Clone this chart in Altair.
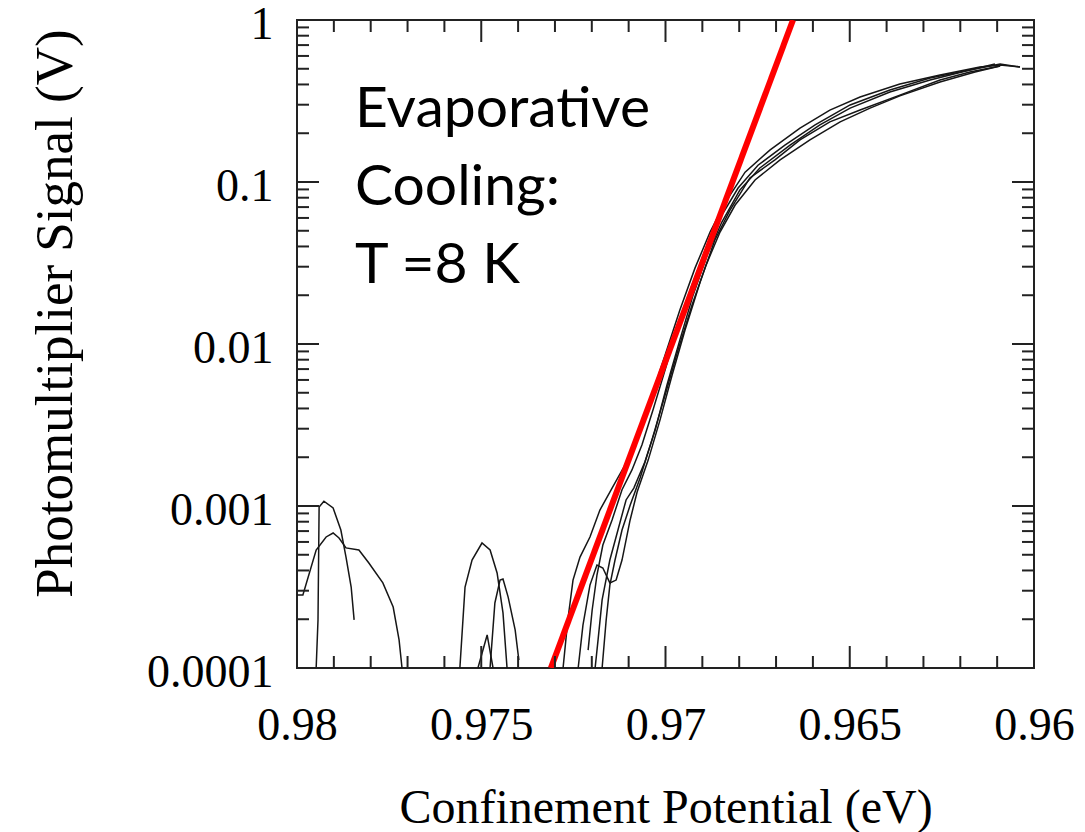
import altair as alt
import pandas as pd

# ---- measured curves: confinement potential (eV) vs photomultiplier signal (V) ----
c1_x = [0.97278, 0.97265, 0.97251, 0.97232, 0.97205, 0.97178, 0.97145, 0.97110, 0.97069, 0.97037,
        0.97001, 0.96961, 0.96920, 0.96879, 0.96839, 0.96784, 0.96716, 0.96635, 0.96554, 0.96472,
        0.96364, 0.96255, 0.96147, 0.96092, 0.96038]
c1_y = [1.00e-4, 1.98e-4, 3.49e-4, 4.84e-4, 6.44e-4, 9.44e-4, 1.29e-3, 1.79e-3, 3.03e-3, 4.84e-3,
        8.56e-3, 1.62e-2, 2.94e-2, 4.91e-2, 7.41e-2, 0.115, 0.158, 0.215, 0.278, 0.335,
        0.403, 0.457, 0.513, 0.528, 0.513]

c2_x = [0.97237, 0.97224, 0.97205, 0.97186, 0.97170, 0.97151, 0.97134, 0.97118, 0.97096, 0.97077,
        0.97047, 0.97015, 0.96982, 0.96947, 0.96906, 0.96866, 0.96825, 0.96771, 0.96703, 0.96635,
        0.96554, 0.96472, 0.96364, 0.96255, 0.96174, 0.96092]
c2_y = [1.00e-4, 1.84e-4, 3.25e-4, 4.32e-4, 4.14e-4, 3.35e-4, 3.49e-4, 4.64e-4, 8.20e-4, 1.22e-3,
        1.92e-3, 3.39e-3, 6.44e-3, 1.22e-2, 2.41e-2, 4.39e-2, 6.71e-2, 0.106, 0.137, 0.182,
        0.235, 0.278, 0.344, 0.426, 0.477, 0.520]

c3_x = [0.97191, 0.97183, 0.97172, 0.97151, 0.97129, 0.97107, 0.97086, 0.97056, 0.97028, 0.96996,
        0.96961, 0.96925, 0.96887, 0.96847, 0.96798, 0.96744, 0.96662, 0.96581, 0.96499, 0.96391,
        0.96282, 0.96174, 0.96092, 0.96038]
c3_y = [1.00e-4, 1.49e-4, 2.63e-4, 4.64e-4, 7.11e-4, 1.09e-3, 1.29e-3, 1.87e-3, 2.94e-3, 5.58e-3,
        1.06e-2, 2.01e-2, 3.54e-2, 5.66e-2, 8.93e-2, 0.122, 0.169, 0.225, 0.286, 0.359,
        0.426, 0.491, 0.535, 0.513]

c4_x = [0.97210, 0.97199, 0.97186, 0.97170, 0.97145, 0.97118, 0.97091, 0.97064, 0.97034, 0.97001,
        0.96966, 0.96928, 0.96890, 0.96852, 0.96803, 0.96749, 0.96676, 0.96594, 0.96499, 0.96391,
        0.96282, 0.96174, 0.96106]
c4_y = [1.29e-4, 2.28e-4, 3.75e-4, 5.74e-4, 8.20e-4, 1.26e-3, 1.67e-3, 2.38e-3, 3.91e-3, 6.92e-3,
        1.31e-2, 2.31e-2, 3.91e-2, 5.99e-2, 9.18e-2, 0.127, 0.169, 0.225, 0.299, 0.370,
        0.438, 0.491, 0.535]

c5_x = [0.97172, 0.97161, 0.97151, 0.97137, 0.97118, 0.97096, 0.97069, 0.97037, 0.97001, 0.96966,
        0.96928, 0.96890, 0.96852, 0.96811, 0.96757, 0.96689, 0.96608, 0.96526, 0.96445, 0.96364,
        0.96255, 0.96160, 0.96092]
c5_y = [1.00e-4, 1.98e-4, 3.25e-4, 4.64e-4, 7.11e-4, 1.01e-3, 1.49e-3, 2.55e-3, 4.84e-3, 9.18e-3,
        1.74e-2, 3.07e-2, 4.91e-2, 7.21e-2, 0.103, 0.137, 0.182, 0.235, 0.286, 0.340,
        0.414, 0.477, 0.520]

l1_x = [0.98000, 0.97984, 0.97948, 0.97921, 0.97902, 0.97886, 0.97867, 0.97832, 0.97805, 0.97767,
        0.97739, 0.97723, 0.97715]
l1_y = [2.82e-4, 2.82e-4, 5.35e-4, 6.44e-4, 6.81e-4, 6.35e-4, 5.51e-4, 5.35e-4, 4.45e-4, 3.35e-4,
        2.38e-4, 1.49e-4, 1.00e-4]

l2_x = [0.97948, 0.97943, 0.97940, 0.97927, 0.97902, 0.97881, 0.97867, 0.97853, 0.97845]
l2_y = [1.00e-4, 1.98e-4, 9.86e-4, 1.07e-3, 9.72e-4, 7.11e-4, 4.84e-4, 3.16e-4, 1.98e-4]

m1_x = [0.97558, 0.97544, 0.97525, 0.97498, 0.97476, 0.97457, 0.97441, 0.97430]
m1_y = [1.00e-4, 3.16e-4, 4.64e-4, 5.91e-4, 5.35e-4, 3.86e-4, 2.19e-4, 1.00e-4]

m2_x = [0.97476, 0.97463, 0.97449, 0.97441, 0.97427, 0.97408, 0.97398]
m2_y = [1.01e-4, 2.52e-4, 3.49e-4, 3.54e-4, 2.74e-4, 1.72e-4, 1.12e-4]

m3_x = [0.97509, 0.97484, 0.97468]
m3_y = [1.00e-4, 1.60e-4, 1.00e-4]

# ---- exponential fit (red) ----
fit_x = [0.97311, 0.96654]
fit_y = [1.0e-4, 1.0]

# ---- axis ticks / labels ----
x_major = [0.98, 0.975, 0.97, 0.965, 0.96]
x_minor = [round(0.98 - i * 0.001, 3) for i in range(21) if i % 5]
y_major = [1e-4, 1e-3, 1e-2, 1e-1, 1.0]
y_minor = [m * 10.0 ** e for e in range(-4, 0) for m in range(2, 10)]

note_text = ["Evaporative\nCooling:\nT =8 K"]

curves = {
    "c1": (c1_x, c1_y), "c2": (c2_x, c2_y), "c3": (c3_x, c3_y),
    "c4": (c4_x, c4_y), "c5": (c5_x, c5_y), "l1": (l1_x, l1_y),
    "l2": (l2_x, l2_y), "m1": (m1_x, m1_y), "m2": (m2_x, m2_y), "m3": (m3_x, m3_y),
}
rows = []
for name, (xs, ys) in curves.items():
    for i, (xv, yv) in enumerate(zip(xs, ys)):
        rows.append({"curve": name, "order": i, "x": xv, "y": yv})
df = pd.DataFrame(rows)
fit_df = pd.DataFrame({"x": fit_x, "y": fit_y})

W, H = 737, 648
serif = "Liberation Serif"

xscale = alt.Scale(domain=[0.96, 0.98], reverse=True, nice=False, zero=False)
yscale = alt.Scale(type="log", domain=[1e-4, 1.0], nice=False)

label_expr = ("datum.value >= 0.99 ? '1' : datum.value >= 0.099 ? '0.1' : "
              "datum.value >= 0.0099 ? '0.01' : datum.value >= 0.00099 ? '0.001' : '0.0001'")

x_axis = alt.Axis(values=x_major, format="~g", ticks=False, domain=False, grid=False,
                  labelFont=serif, labelFontSize=46, labelColor="black",
                  labelPadding=35, labelFlush=False,
                  title="Confinement Potential (eV)", titleFont=serif, titleFontSize=48,
                  titleFontWeight="normal", titleColor="black",
                  titleY=154, titleBaseline="alphabetic")
y_axis = alt.Axis(values=y_major, labelExpr=label_expr, ticks=False, domain=False, grid=False,
                  labelFont=serif, labelFontSize=46, labelColor="black",
                  labelPadding=24, labelFlush=False, labelOffset=4, labelBound=False,
                  title="Photomultiplier Signal (V)", titleFont=serif, titleFontSize=53,
                  titleFontWeight="normal", titleColor="black",
                  titleAngle=270, titleX=-226, titleY=293, titleBaseline="alphabetic",
                  titleAlign="center")

X = lambda: alt.X("x:Q", scale=xscale, axis=x_axis)
Y = lambda: alt.Y("y:Q", scale=yscale, axis=y_axis)

lines = alt.Chart(df).mark_line(color="#161616", strokeWidth=1.5, clip=True).encode(
    x=X(), y=Y(), detail="curve:N", order="order:Q",
)

fit = alt.Chart(fit_df).mark_line(color="#ff0000", strokeWidth=6, clip=True).encode(
    x=X(), y=Y(),
)


def xticks(vals, length):
    d = pd.DataFrame({"x": vals})
    bottom = alt.Chart(d).mark_rule(color="#222", strokeWidth=2).encode(
        x=X(), y=alt.value(H), y2=alt.value(H - length))
    top = alt.Chart(d).mark_rule(color="#222", strokeWidth=2).encode(
        x=X(), y=alt.value(0), y2=alt.value(length))
    return [bottom, top]


def yticks(vals, length):
    d = pd.DataFrame({"y": vals})
    left = alt.Chart(d).mark_rule(color="#222", strokeWidth=2).encode(
        y=Y(), x=alt.value(0), x2=alt.value(length))
    right = alt.Chart(d).mark_rule(color="#222", strokeWidth=2).encode(
        y=Y(), x=alt.value(W), x2=alt.value(W - length))
    return [left, right]


note = alt.Chart(pd.DataFrame({"note": note_text})).mark_text(
    align="left", baseline="alphabetic", font="Lato", fontSize=57, lineBreak="\n",
    lineHeight=78, color="black"
).encode(x=alt.value(58), y=alt.value(107), text="note:N")

layers = ([lines, fit] + xticks(x_major, 22) + xticks(x_minor, 12)
          + yticks(y_major, 22) + yticks(y_minor, 12) + [note])

chart = alt.layer(*layers).properties(
    width=W, height=H,
    autosize=alt.AutoSizeParams(type="none"),
    padding={"left": 297, "top": 20, "right": 51, "bottom": 164},
    background="white",
).configure_view(stroke="#222", strokeWidth=2)

chart.save("out.html", embed_options={"renderer": "svg", "actions": False})
